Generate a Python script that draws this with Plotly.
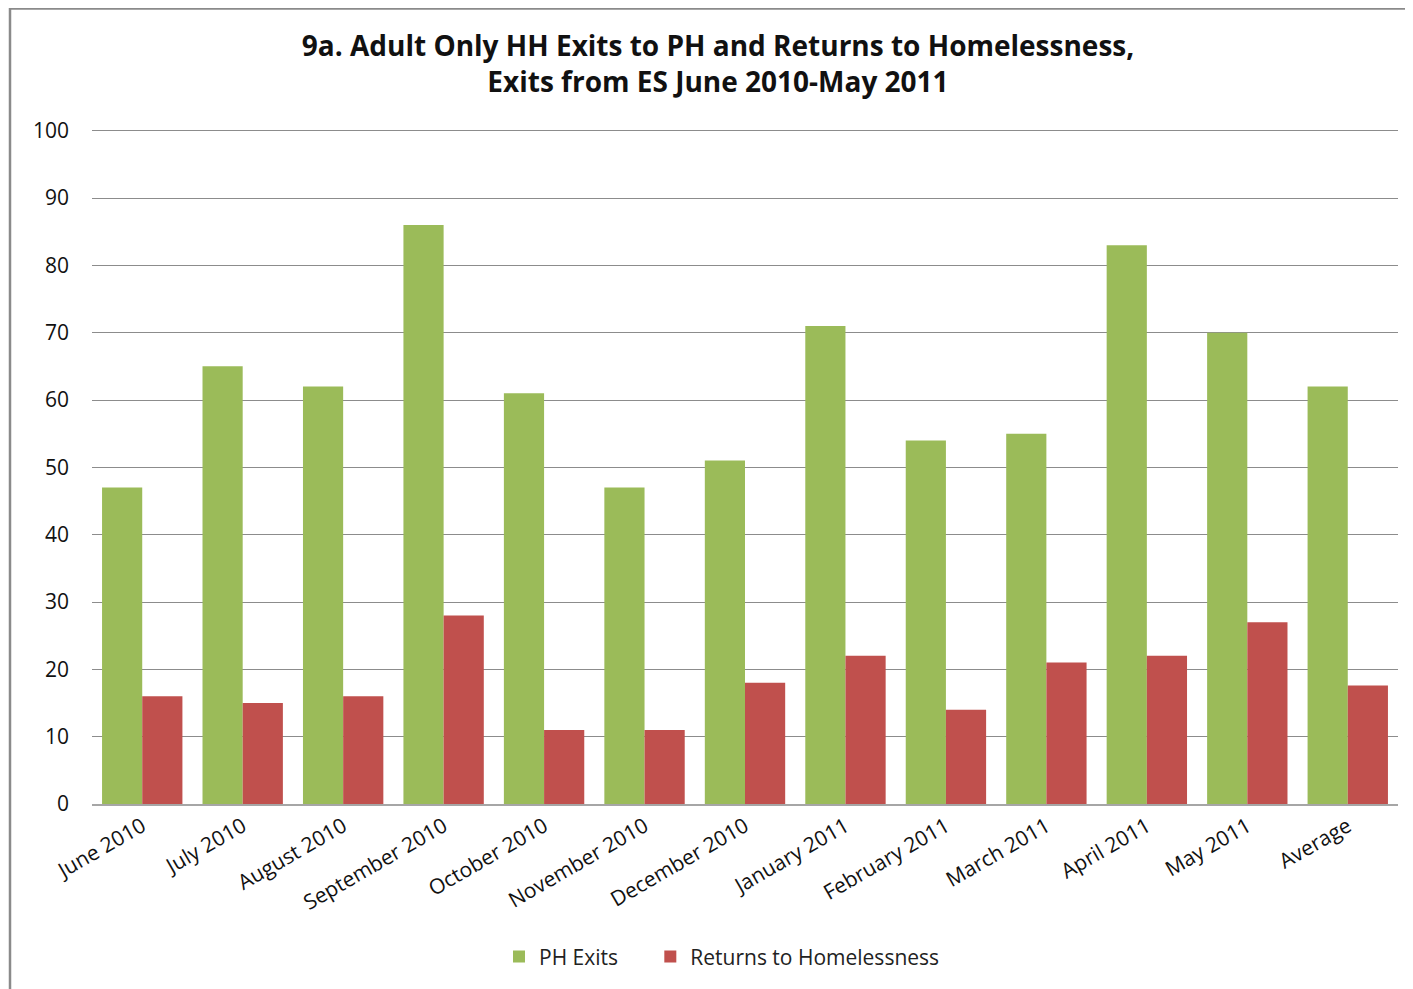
import plotly.graph_objects as go

categories = ["June 2010", "July 2010", "August 2010", "September 2010", "October 2010",
              "November 2010", "December 2010", "January 2011", "February 2011",
              "March 2011", "April 2011", "May 2011", "Average"]
ph_exits = [47, 65, 62, 86, 61, 47, 51, 71, 54, 55, 83, 70, 62]
returns = [16, 15, 16, 28, 11, 11, 18, 22, 14, 21, 22, 27, 17.6]
y_ticks = [0, 10, 20, 30, 40, 50, 60, 70, 80, 90, 100]

FONT = "'Open Sans', Lato, sans-serif"

W, H = 1405, 981
L, R, T, B = 84, 15, 121, 177
PW, PH = W - L - R, H - T - B

fig = go.Figure()
fig.add_trace(go.Bar(x=categories, y=ph_exits, name="PH Exits&nbsp;&nbsp;&nbsp;&nbsp;&nbsp;",
                     marker=dict(color="#9BBB59", line=dict(width=0))))
fig.add_trace(go.Bar(x=categories, y=returns, name="Returns to Homelessness",
                     marker=dict(color="#C0504D", line=dict(width=0))))

fig.update_layout(
    width=W, height=H,
    paper_bgcolor="white", plot_bgcolor="white",
    margin=dict(l=L, r=R, t=T, b=B),
    barmode="group", bargap=0.2, bargroupgap=0,
    font=dict(family=FONT, size=21, color="#111"),
    title=dict(text="<b>9a. Adult Only HH Exits to PH and Returns to Homelessness,<br>Exits from ES June 2010-May 2011</b>",
               x=(718 - 8) / W, xanchor="center", y=1 - (48 / H), yanchor="top",
               font=dict(family=FONT, size=28, color="#111")),
    legend=dict(orientation="h", x=(722 - 8 - L) / PW, xanchor="center",
                y=-(958 - 8 - (T + PH) - 12) / PH, yanchor="top",
                font=dict(family=FONT, size=21, color="#222"),
                tracegroupgap=0),
    showlegend=True,
)
fig.update_yaxes(range=[0, 100.25], tickvals=y_ticks, showgrid=True, gridcolor="#8c8c8c",
                 gridwidth=1, zeroline=False, showline=False, ticks="",
                 ticklabelstandoff=22, tickfont=dict(size=21))
fig.update_xaxes(tickangle=-30, showline=True, linecolor="#a6a6a6", linewidth=2,
                 ticks="", tickfont=dict(size=21))

fig.add_shape(type="rect", xref="paper", yref="paper",
              x0=(2 - L) / PW, x1=1.2, y0=-0.6, y1=1 + (T + 1) / PH,
              line=dict(color="#8a8a8a", width=2.5), fillcolor="rgba(0,0,0,0)", layer="below")

fig.write_html("out.html")
